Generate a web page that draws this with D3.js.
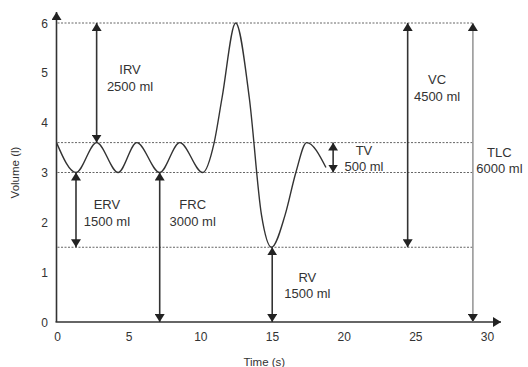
<!DOCTYPE html>
<html>
<head>
<script src="https://d3js.org/d3.v7.min.js"></script>
<style>
  body { margin: 0; background: #fff; }
  svg text { font-family: "Liberation Sans", Arial, sans-serif; fill: #333; }
</style>
</head>
<body>
<div id="chart"></div>
<script>
// spirogram trace (time in s, volume in l)
const timeS   = [0, 1.36, 2.8, 4.3, 5.6, 7.2, 8.6, 10.2, 11.0, 11.55, 12.5, 13.45, 14.3, 15.0, 15.95, 16.7, 17.45, 18.8];
const volumeL = [3.6, 3.0, 3.6, 3.0, 3.6, 3.0, 3.6, 3.0, 3.6, 4.5, 6.0, 4.5, 2.15, 1.5, 2.15, 3.0, 3.6, 3.1];

// dotted reference levels
const levels = [6, 3.6, 3.0, 1.5];

// lung volumes
const measures  = ["IRV", "ERV", "FRC", "RV", "TV", "VC", "TLC"];
const measureMl = [2500, 1500, 3000, 1500, 500, 4500, 6000];
const measureT  = [2.8, 1.36, 7.2, 15.05, 19.3, 24.5, 29.05];
const measureV0 = [3.6, 3.0, 3.0, 1.5, 3.6, 1.5, 6];
const measureV1 = [6, 1.5, 0, 0, 3.0, 6, 0];

const xTicks = [0, 5, 10, 15, 20, 25, 30];
const yTicks = [0, 1, 2, 3, 4, 5, 6];

const W = 528, H = 367;
const svg = d3.select("#chart").append("svg")
    .attr("width", W).attr("height", H);

const x = d3.scaleLinear().domain([0, 30]).range([56.5, 486.5]);
const y = d3.scaleLinear().domain([0, 6]).range([322, 23]);

const ink = "#333";

// arrowhead markers
const defs = svg.append("defs");
defs.append("marker")
    .attr("id", "head")
    .attr("viewBox", "0 0 8 10")
    .attr("refX", 8).attr("refY", 5)
    .attr("markerWidth", 8).attr("markerHeight", 10)
    .attr("markerUnits", "userSpaceOnUse")
    .attr("orient", "auto-start-reverse")
    .append("path").attr("d", "M0,0L8,5L0,10Z").attr("fill", "#222");

// dotted levels (end at the TLC arrow)
svg.selectAll("line.level")
    .data(levels)
    .join("line")
    .attr("class", "level")
    .attr("x1", x(0) + 1).attr("x2", x(29.05))
    .attr("y1", d => y(d)).attr("y2", d => y(d))
    .attr("stroke", "#666")
    .attr("stroke-width", 1)
    .attr("stroke-dasharray", "2,1.5");

// axes
svg.append("line")
    .attr("x1", x(0)).attr("y1", y(0))
    .attr("x2", x(0)).attr("y2", 12)
    .attr("stroke", ink).attr("stroke-width", 1.6)
    .attr("marker-end", "url(#head)");
svg.append("line")
    .attr("x1", x(0) - 1).attr("y1", y(0))
    .attr("x2", 501).attr("y2", y(0))
    .attr("stroke", ink).attr("stroke-width", 1.6)
    .attr("marker-end", "url(#head)");

svg.selectAll("text.xt")
    .data(xTicks)
    .join("text")
    .attr("class", "xt")
    .attr("x", d => x(d) + 1)
    .attr("y", 341)
    .attr("text-anchor", "middle")
    .attr("font-size", 12)
    .text(d => d);

svg.selectAll("text.yt")
    .data(yTicks)
    .join("text")
    .attr("class", "yt")
    .attr("x", 48)
    .attr("y", d => y(d) + 4.5)
    .attr("text-anchor", "end")
    .attr("font-size", 12)
    .text(d => d);

svg.append("text")
    .attr("x", x(14.5)).attr("y", 366)
    .attr("text-anchor", "middle")
    .attr("font-size", 11.5)
    .text("Time (s)");

svg.append("text")
    .attr("transform", `translate(19,${y(3.0)}) rotate(-90)`)
    .attr("text-anchor", "middle")
    .attr("font-size", 11.5)
    .text("Volume (l)");

// trace
const pts = timeS.map((t, i) => [t, volumeL[i]]);
svg.append("path")
    .datum(pts)
    .attr("d", d3.line()
        .x(d => x(d[0]))
        .y(d => y(d[1]))
        .curve(d3.curveMonotoneX))
    .attr("fill", "none")
    .attr("stroke", ink)
    .attr("stroke-width", 1.4);

// volume arrows
measures.forEach((m, i) => {
    svg.append("line")
        .attr("x1", x(measureT[i])).attr("x2", x(measureT[i]))
        .attr("y1", y(measureV0[i])).attr("y2", y(measureV1[i]))
        .attr("stroke", m === "TLC" ? "#999" : ink)
        .attr("stroke-width", 1.6)
        .attr("marker-start", "url(#head)")
        .attr("marker-end", "url(#head)");
});

// label anchors (centre of first line, in data units)
const labelAt = {
    IRV: [5.13, 5.06], ERV: [3.52, 2.35], FRC: [9.5, 2.35], RV: [17.5, 0.9],
    TV: [21.45, 3.45], VC: [26.55, 4.86], TLC: [30.9, 3.41]
};
measures.forEach((m, i) => {
    const [lt, lv] = labelAt[m];
    const t = svg.append("text")
        .attr("x", x(lt))
        .attr("y", y(lv) + 4.5)
        .attr("text-anchor", "middle")
        .attr("font-size", 13);
    t.append("tspan").attr("x", x(lt)).text(m);
    t.append("tspan").attr("x", x(lt)).attr("dy", 16.5).text(measureMl[i] + " ml");
});
</script>
</body>
</html>
